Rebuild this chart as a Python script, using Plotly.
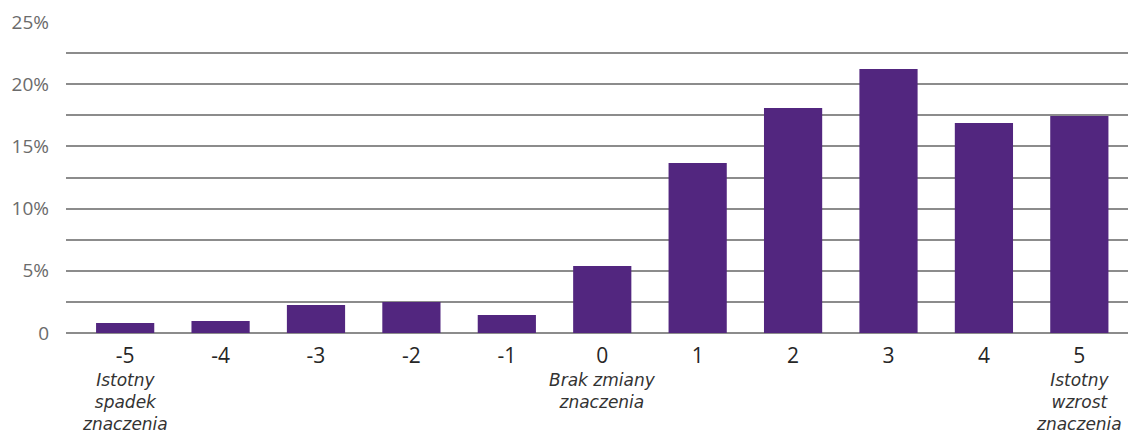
import plotly.graph_objects as go

# Ocena zmiany znaczenia: rozkład odpowiedzi w skali od -5 do 5
scores = [-5, -4, -3, -2, -1, 0, 1, 2, 3, 4, 5]
shares = [0.80, 0.96, 2.25, 2.49, 1.45, 5.39, 13.67, 18.09, 21.22, 16.88, 17.44]

y_tick_vals = [0, 5, 10, 15, 20, 25]
y_tick_text = ["0", "5%", "10%", "15%", "20%", "25%"]

scale_notes = {
    -5: "Istotny<br>spadek<br>znaczenia",
    0: "Brak zmiany<br>znaczenia",
    5: "Istotny<br>wzrost<br>znaczenia",
}

BAR_COLOR = "#52267f"
GRID_COLOR = "#8c8c8c"
FONT = "Open Sans"
NOTE_FONT = "DejaVu Sans"

fig = go.Figure(
    go.Bar(
        x=scores,
        y=shares,
        width=0.61,
        marker=dict(color=BAR_COLOR, line=dict(width=0)),
        hovertemplate="%{x}: %{y:.1f}%<extra></extra>",
    )
)

for score, note in scale_notes.items():
    fig.add_annotation(
        x=score,
        xref="x",
        y=-0.112,
        yref="paper",
        yanchor="top",
        text=note,
        showarrow=False,
        align="center",
        font=dict(family=NOTE_FONT, size=17, color="#333333", style="italic"),
    )

fig.update_layout(
    width=1128,
    height=439,
    margin=dict(l=66, r=0, t=22, b=106),
    paper_bgcolor="white",
    plot_bgcolor="white",
    showlegend=False,
    xaxis=dict(
        range=[-5.62, 5.51],
        tickvals=scores,
        ticktext=[str(s) for s in scores],
        tickfont=dict(family=FONT, size=21, color="#262626"),
        showgrid=False,
        zeroline=False,
        showline=False,
        ticks="",
        ticklabelstandoff=8,
    ),
    yaxis=dict(
        range=[0, 25],
        tickvals=y_tick_vals,
        ticktext=y_tick_text,
        tickfont=dict(family=FONT, size=19, color="#6b6b6b"),
        showgrid=True,
        gridcolor=GRID_COLOR,
        gridwidth=1.5,
        minor=dict(dtick=2.5, tick0=0, showgrid=True, gridcolor=GRID_COLOR, gridwidth=1.5),
        zeroline=True,
        zerolinecolor=GRID_COLOR,
        zerolinewidth=1.5,
        showline=False,
        ticks="",
        ticklabelstandoff=16,
    ),
)

fig.write_html("out.html")
